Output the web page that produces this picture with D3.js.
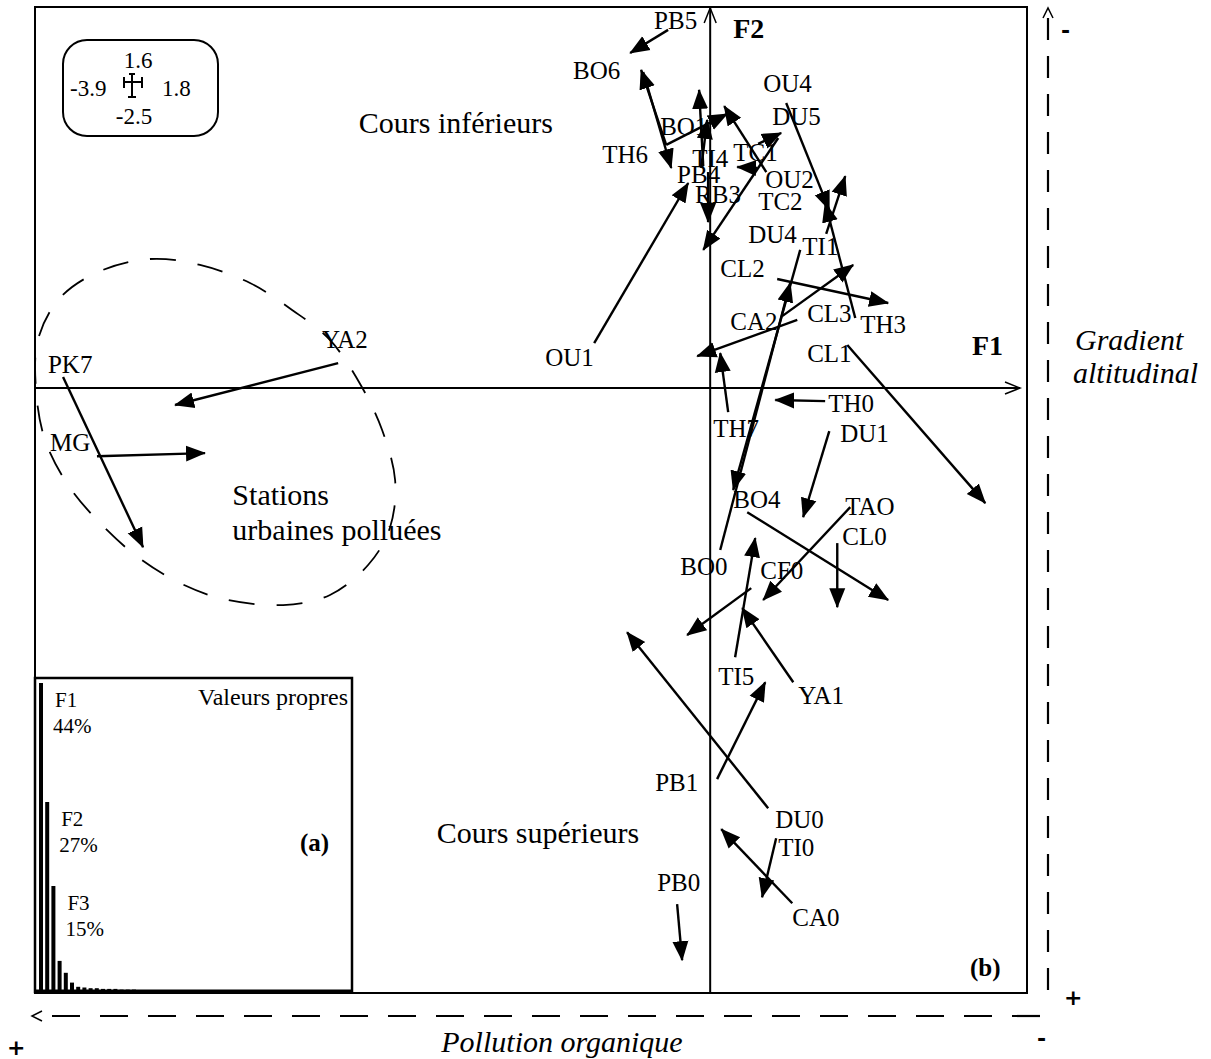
<!DOCTYPE html>
<html><head><meta charset="utf-8">
<script src="https://cdn.jsdelivr.net/npm/d3@7"></script>
<style>
body{margin:0;background:#fff}
text{font-family:"Liberation Serif","Times New Roman",serif;fill:#000}
text.sign{font-family:"DejaVu Sans",sans-serif;font-weight:bold}
</style>
</head><body>
<svg id="c" width="1211" height="1059"></svg>
<script>
// ---------- DATA ----------
// axis extents shown in the scale legend (F1 min/max, F2 min/max)
const extentLabels = {f1min:"-3.9", f1max:"1.8", f2max:"1.6", f2min:"-2.5"};
const f1Domain = [-3.9, 1.83];
const f2Domain = [-2.54, 1.6];

// arrows: tail (F1, F2) and head (F1, F2)
const arrowTails = [
  [-0.243,1.504],[-0.387,1.327],[-0.254,1.021],[-0.254,1.021],[-0.040,0.932],
  [-0.052,0.924],[0.324,0.907],[0.277,1.025],[0.272,0.924],[0.393,1.050],
  [-0.012,0.907],[-0.670,0.189],[0.439,1.197],[0.838,0.294],[0.670,0.647],
  [0.416,0.302],[0.503,0.286],[0.520,0.580],[0.058,-0.680],[0.387,0.458],
  [0.104,-0.101],[0.664,-0.055],[0.792,0.181],[0.688,-0.181],[0.214,-0.521],
  [0.809,-0.500],[0.734,-0.651],[0.237,-0.840],[0.144,-1.130],[0.480,-1.235],
  [0.335,-1.764],[0.040,-1.642],[0.381,-1.890],[0.474,-2.163],[-0.191,-2.167],
  [-2.149,0.105],[-3.738,0.046],[-3.542,-0.286]
];
const arrowHeads = [
  [-0.462,1.407],[-0.225,0.924],[-0.399,1.336],[0.098,1.151],[-0.064,1.252],
  [-0.017,1.126],[0.081,1.184],[0.410,1.071],[0.156,0.928],[-0.040,0.580],
  [-0.012,0.697],[-0.127,0.861],[0.688,0.748],[0.664,0.777],[0.780,0.890],
  [0.826,0.517],[-0.075,0.134],[0.133,-0.428],[0.462,0.441],[1.028,0.357],
  [0.058,0.147],[0.376,-0.050],[1.589,-0.483],[0.537,-0.542],[1.028,-0.890],
  [0.306,-0.890],[0.734,-0.920],[-0.133,-1.037],[0.260,-0.630],[0.185,-0.924],
  [-0.480,-1.025],[0.318,-1.235],[0.300,-2.138],[0.064,-1.852],[-0.162,-2.402],
  [-3.091,-0.071],[-3.276,-0.668],[-2.918,-0.273]
];

// station labels and their positions (F1, F2)
const stationNames = ["PB5","BO6","OU4","DU5","BO1","TH6","TI4","TC1","PB4","OU2","RB3","TC2",
  "DU4","TI1","CL2","CL3","CA2","TH3","CL1","OU1","YA2","PK7","MG","TH0","TH7","DU1","BO4",
  "TAO","CL0","BO0","CF0","TI5","YA1","PB1","DU0","TI0","PB0","CA0"];
const stationPos = [
  [-0.324,1.508],[-0.792,1.298],[0.306,1.243],[0.358,1.105],[-0.289,1.063],[-0.624,0.945],
  [-0.104,0.928],[0.133,0.953],[-0.191,0.861],[0.318,0.840],[-0.087,0.777],[0.277,0.748],
  [0.220,0.609],[0.532,0.559],[0.058,0.466],[0.560,0.277],[0.116,0.244],[0.867,0.231],
  [0.560,0.109],[-0.953,0.092],[-2.242,0.168],[-3.825,0.063],[-3.813,-0.265],[0.682,-0.101],
  [0.017,-0.206],[0.751,-0.227],[0.133,-0.504],[0.780,-0.533],[0.763,-0.659],[-0.173,-0.785],
  [0.289,-0.802],[0.046,-1.247],[0.508,-1.327],[-0.318,-1.693],[0.376,-1.848],[0.393,-1.966],
  [-0.306,-2.113],[0.474,-2.260]
];

// envelope of polluted urban stations (F1, F2)
const urbanEnvelope = [
  [-3.524,0.491],[-3.236,0.542],[-2.947,0.517],[-2.658,0.441],[-2.415,0.328],[-2.196,0.202],
  [-2.022,0.017],[-1.895,-0.176],[-1.820,-0.386],[-1.849,-0.584],[-1.976,-0.743],[-2.196,-0.869],
  [-2.467,-0.911],[-2.785,-0.890],[-3.051,-0.823],[-3.305,-0.710],[-3.524,-0.567],[-3.709,-0.407],
  [-3.842,-0.218],[-3.894,-0.008],[-3.883,0.202],[-3.756,0.378]
];

// region labels
const regionLabels = [
  {lines:["Cours inférieurs"], pos:[-2.03,1.07]},
  {lines:["Stations","urbaines polluées"], pos:[-2.76,-0.49]},
  {lines:["Cours supérieurs"], pos:[-1.58,-1.91]}
];

// eigenvalues (%)
const eigenValues = [44,27,15,4.3,2.6,1.2,0.6,0.5,0.4,0.4,0.3,0.3,0.3,0.2,0.2,0.2];
const eigenLabels = [{f:"F1",p:"44%"},{f:"F2",p:"27%"},{f:"F3",p:"15%"}];

// ---------- DRAW ----------
const svg = d3.select("#c");
const x = d3.scaleLinear().domain(f1Domain).range([35,1027]);
const y = d3.scaleLinear().domain(f2Domain).range([993,7]);

const defs = svg.append("defs");
defs.append("marker").attr("id","ah").attr("markerUnits","userSpaceOnUse")
  .attr("viewBox","0 -9 20 18").attr("refX",19).attr("refY",0)
  .attr("markerWidth",20).attr("markerHeight",18).attr("orient","auto")
  .append("path").attr("d","M0,-8L20,0L0,8Z").attr("fill","#000");

// frame
svg.append("rect").attr("x",35).attr("y",7).attr("width",992).attr("height",986)
  .attr("fill","none").attr("stroke","#000").attr("stroke-width",2);

// F1 / F2 axes
const x0 = x(0), y0 = y(0);
svg.append("line").attr("x1",35).attr("y1",y0).attr("x2",1020).attr("y2",y0)
  .attr("stroke","#000").attr("stroke-width",2);
svg.append("path").attr("d",`M${1005},${y0-6}L1020,${y0}L${1005},${y0+6}`)
  .attr("fill","none").attr("stroke","#000").attr("stroke-width",1.5);
svg.append("line").attr("x1",x0).attr("y1",993).attr("x2",x0).attr("y2",8)
  .attr("stroke","#000").attr("stroke-width",2);
svg.append("path").attr("d",`M${x0-6},23L${x0},8L${x0+6},23`)
  .attr("fill","none").attr("stroke","#000").attr("stroke-width",1.5);
svg.append("text").attr("x",x0+23).attr("y",38).attr("font-size",28).attr("font-weight","bold").text("F2");
svg.append("text").attr("x",972).attr("y",y0-33).attr("font-size",28).attr("font-weight","bold").text("F1");

// envelope
svg.append("path").datum(urbanEnvelope)
  .attr("d", d3.line().x(d=>x(d[0])).y(d=>y(d[1])).curve(d3.curveCardinalClosed))
  .attr("fill","none").attr("stroke","#000").attr("stroke-width",1.8)
  .attr("stroke-dasharray","26,22");

// arrows
svg.append("g").selectAll("line").data(arrowTails).join("line")
  .attr("x1",d=>x(d[0])).attr("y1",d=>y(d[1]))
  .attr("x2",(d,i)=>x(arrowHeads[i][0])).attr("y2",(d,i)=>y(arrowHeads[i][1]))
  .attr("stroke","#000").attr("stroke-width",2.4).attr("marker-end","url(#ah)");

// station labels
svg.append("g").selectAll("text").data(stationNames).join("text")
  .attr("x",(d,i)=>x(stationPos[i][0])).attr("y",(d,i)=>y(stationPos[i][1]))
  .attr("font-size",25).text(d=>d);

// region labels
regionLabels.forEach(r=>{
  r.lines.forEach((l,k)=>{
    svg.append("text").attr("x",x(r.pos[0])).attr("y",y(r.pos[1])+k*35)
      .attr("font-size",30).text(l);
  });
});

// (b)
svg.append("text").attr("x",970).attr("y",976).attr("font-size",25).attr("font-weight","bold").text("(b)");

// scale legend
svg.append("rect").attr("x",63).attr("y",40).attr("width",155).attr("height",96).attr("rx",24)
  .attr("fill","#fff").attr("stroke","#000").attr("stroke-width",2);
const lg = svg.append("g");
lg.append("text").attr("x",138).attr("y",68).attr("text-anchor","middle").attr("font-size",23).text(extentLabels.f2max);
lg.append("text").attr("x",70).attr("y",96).attr("font-size",23).text(extentLabels.f1min);
lg.append("text").attr("x",162).attr("y",96).attr("font-size",23).text(extentLabels.f1max);
lg.append("text").attr("x",134).attr("y",124).attr("text-anchor","middle").attr("font-size",23).text(extentLabels.f2min);
const cr = svg.append("g").attr("stroke","#000").attr("stroke-width",2);
cr.append("line").attr("x1",124).attr("y1",82).attr("x2",142).attr("y2",82);
cr.append("line").attr("x1",124).attr("y1",77).attr("x2",124).attr("y2",88);
cr.append("line").attr("x1",142).attr("y1",77).attr("x2",142).attr("y2",88);
cr.append("line").attr("x1",132).attr("y1",74).attr("x2",132).attr("y2",97);
cr.append("line").attr("x1",129).attr("y1",74).attr("x2",135).attr("y2",74);
cr.append("line").attr("x1",128).attr("y1",97).attr("x2",136).attr("y2",97);

// eigenvalue inset
svg.append("rect").attr("x",35).attr("y",678).attr("width",317).attr("height",314)
  .attr("fill","#fff").attr("stroke","#000").attr("stroke-width",2.5);
const xb = d3.scaleBand().domain(d3.range(eigenValues.length)).range([38, 38+eigenValues.length*6.2]);
const yb = d3.scaleLinear().domain([0,44]).range([991,683]);
svg.append("g").selectAll("rect").data(eigenValues).join("rect")
  .attr("x",(d,i)=>xb(i)+1).attr("width",4).attr("y",d=>yb(d)).attr("height",d=>991-yb(d))
  .attr("fill","#000");
svg.append("line").attr("x1",35).attr("y1",991).attr("x2",352).attr("y2",991).attr("stroke","#000").attr("stroke-width",3);
eigenLabels.forEach((e,i)=>{
  const bx = xb(i)+15, by = yb(eigenValues[i]);
  svg.append("text").attr("x",bx+2).attr("y",by+24).attr("font-size",21).text(e.f);
  svg.append("text").attr("x",bx).attr("y",by+50).attr("font-size",21).text(e.p);
});
svg.append("text").attr("x",348).attr("y",705).attr("text-anchor","end").attr("font-size",24).text("Valeurs propres");
svg.append("text").attr("x",300).attr("y",851).attr("font-size",25).attr("font-weight","bold").text("(a)");

// gradient arrows (dashed)
svg.append("line").attr("x1",1048).attr("y1",990).attr("x2",1048).attr("y2",12)
  .attr("stroke","#000").attr("stroke-width",2.2).attr("stroke-dasharray","22,16");
svg.append("path").attr("d","M1043,18L1048,8L1053,18").attr("fill","none").attr("stroke","#000").attr("stroke-width",1.5);
svg.append("text").attr("class","sign").attr("x",1061).attr("y",38).attr("font-size",22).text("-");
svg.append("text").attr("class","sign").attr("x",1064).attr("y",1005).attr("font-size",22).text("+");
svg.append("text").attr("x",1075).attr("y",350).attr("font-size",30).attr("font-style","italic").text("Gradient");
svg.append("text").attr("x",1073).attr("y",383).attr("font-size",30).attr("font-style","italic").text("altitudinal");

svg.append("line").attr("x1",1040).attr("y1",1016).attr("x2",38).attr("y2",1016)
  .attr("stroke","#000").attr("stroke-width",2.2).attr("stroke-dasharray","28,20");
svg.append("path").attr("d","M42,1011L32,1016L42,1021").attr("fill","none").attr("stroke","#000").attr("stroke-width",1.5);
svg.append("text").attr("class","sign").attr("x",7).attr("y",1055).attr("font-size",22).text("+");
svg.append("text").attr("class","sign").attr("x",1037).attr("y",1046).attr("font-size",22).text("-");
svg.append("text").attr("x",562).attr("y",1052).attr("text-anchor","middle").attr("font-size",30).attr("font-style","italic").text("Pollution organique");
</script>
</body></html>
